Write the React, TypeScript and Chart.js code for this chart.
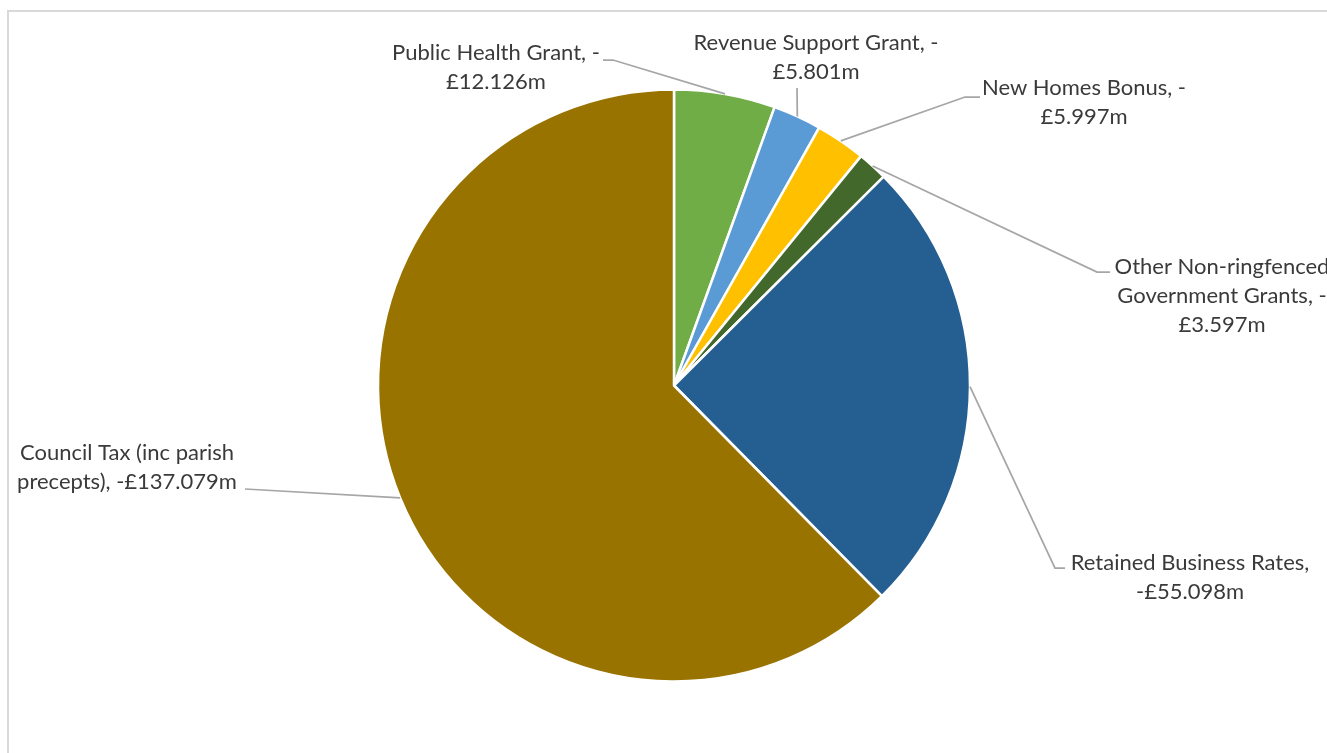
import React, { useEffect, useRef } from "react";
import { Chart, registerables } from "chart.js";

Chart.register(...registerables);

// ---- data ----
const categories = [
  "Public Health Grant",
  "Revenue Support Grant",
  "New Homes Bonus",
  "Other Non-ringfenced Government Grants",
  "Retained Business Rates",
  "Council Tax (inc parish precepts)",
];
const values = [12.126, 5.801, 5.997, 3.597, 55.098, 137.079];
const colors = ["#70AD47", "#5B9BD5", "#FFC000", "#43682B", "#255E91", "#997300"];

// ---- label layout (positions only) ----
const labelBreaks = [
  ["Grant, -"],
  ["Grant, -"],
  ["Bonus, -"],
  ["ringfenced", "Grants, -"],
  ["Rates,"],
  ["parish"],
];
const labelCenters = [
  [496, 53],
  [816, 43],
  [1084, 88],
  [1222, 267],
  [1190, 563],
  [127, 453],
];
const leaderPaths = [
  [[603, 60], [613, 60]],
  [[797, 88]],
  [[980, 97], [965, 97]],
  [[1110, 272], [1097, 272]],
  [[1065, 568], [1055, 568]],
  [[245, 489]],
];

const FONT = "22px Lato";
const LINE_H = 29;

function splitLines(full: string, breaks: string[]): string[] {
  const lines: string[] = [];
  let rest = full;
  for (const b of breaks) {
    const i = rest.indexOf(b);
    if (i < 0) break;
    lines.push(rest.slice(0, i + b.length).trim());
    rest = rest.slice(i + b.length).trim();
  }
  if (rest.length) lines.push(rest);
  return lines;
}

const labelPlugin = {
  id: "pieLabels",
  beforeDraw(chart: any) {
    const ctx = chart.ctx;
    ctx.save();
    ctx.fillStyle = "#D9D9D9";
    ctx.fillRect(7, 10, chart.width, 2);
    ctx.fillRect(7, 10, 2, chart.height);
    ctx.restore();
  },
  afterDraw(chart: any) {
    const ctx = chart.ctx;
    const meta = chart.getDatasetMeta(0);
    ctx.save();
    meta.data.forEach((arc: any, i: number) => {
      const p = arc.getProps(["x", "y", "startAngle", "endAngle", "outerRadius"], true);
      const mid = (p.startAngle + p.endAngle) / 2;
      const ex = p.x + Math.cos(mid) * p.outerRadius;
      const ey = p.y + Math.sin(mid) * p.outerRadius;
      const path = leaderPaths[i];
      ctx.beginPath();
      ctx.strokeStyle = "#A6A6A6";
      ctx.lineWidth = 1.75;
      ctx.moveTo(path[0][0], path[0][1]);
      for (let k = 1; k < path.length; k++) ctx.lineTo(path[k][0], path[k][1]);
      ctx.lineTo(ex, ey);
      ctx.stroke();

      const full = `${categories[i]}, -£${values[i].toFixed(3)}m`;
      const lines = splitLines(full, labelBreaks[i]);
      ctx.font = FONT;
      ctx.fillStyle = "#3A3A3A";
      ctx.textAlign = "center";
      ctx.textBaseline = "middle";
      const [cx, cy] = labelCenters[i];
      lines.forEach((ln, j) => ctx.fillText(ln, cx, cy + j * LINE_H));
    });
    ctx.restore();
  },
};

export default function App() {
  const ref = useRef<HTMLCanvasElement | null>(null);
  useEffect(() => {
    if (!ref.current) return;
    const chart = new Chart(ref.current, {
      type: "pie",
      data: {
        labels: categories,
        datasets: [
          {
            data: values,
            backgroundColor: colors,
            borderColor: "#FFFFFF",
            borderWidth: 2.5,
          },
        ],
      },
      options: {
        animation: false,
        responsive: false,
        maintainAspectRatio: false,
        radius: 296,
        layout: { padding: { left: 378, right: 357, top: 89.5, bottom: 71.5 } },
        plugins: {
          legend: { display: false },
          tooltip: { enabled: false },
          title: { display: false },
        },
      } as any,
      plugins: [labelPlugin],
    });
    return () => chart.destroy();
  }, []);
  return (
    <div style={{ position: "fixed", left: 0, top: 0, width: 1327, height: 753, background: "#fff" }}>
      <canvas ref={ref} width={1327} height={753} style={{ width: 1327, height: 753, display: "block" }} />
    </div>
  );
}
